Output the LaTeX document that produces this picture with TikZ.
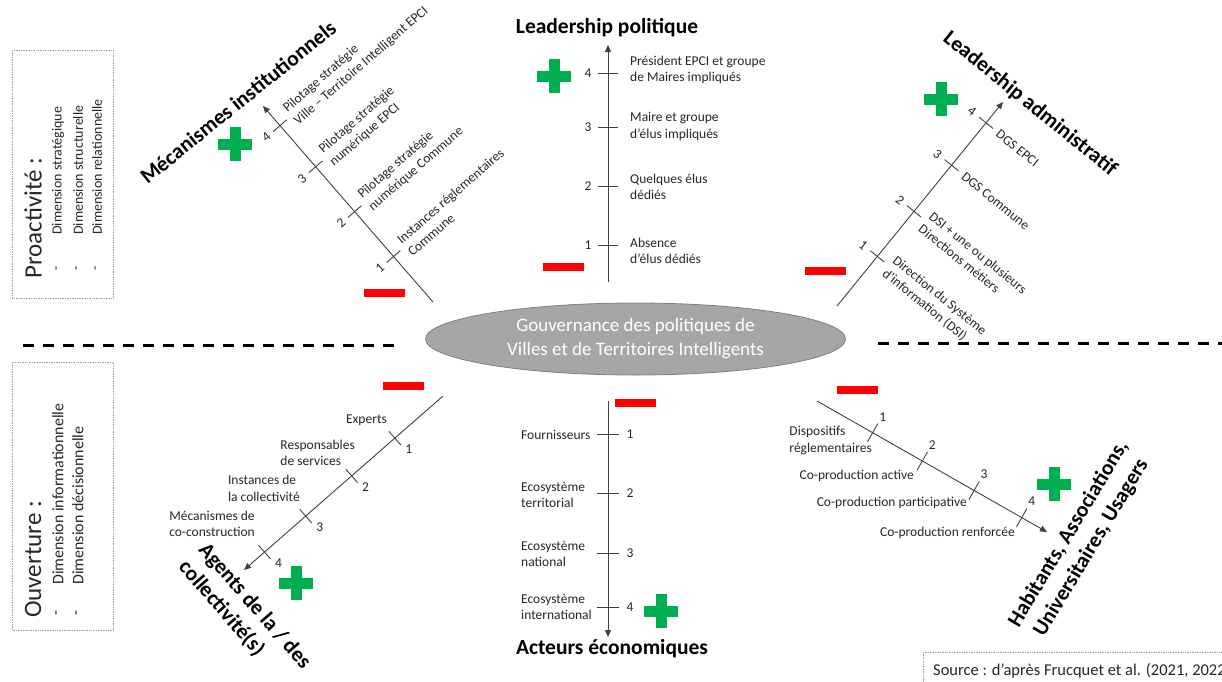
\documentclass[tikz,border=0pt]{standalone}
\usepackage{fontspec}
\setmainfont{Carlito}
\usetikzlibrary{arrows.meta,calc,shapes.geometric}
\definecolor{plusgreen}{HTML}{00B050}
\definecolor{minusred}{HTML}{FF0000}
\definecolor{axisgray}{HTML}{404040}
\definecolor{ellfill}{HTML}{A6A6A6}
\definecolor{elldraw}{HTML}{7F7F7F}
\definecolor{boxgray}{HTML}{A0A0A0}
\begin{document}
\begin{tikzpicture}[x=1pt,y=-1pt,
  lbl/.style={font=\fontsize{13.5}{16.5}\selectfont, inner sep=0pt, align=left, text=black!85},
  numlbl/.style={font=\fontsize{13.5}{16.5}\selectfont, inner sep=0pt, text=black!85},
  ttl/.style={font=\fontsize{21.5}{26.5}\selectfont\bfseries, inner sep=0pt},
  axisline/.style={draw=axisgray, line width=0.9pt, -{Triangle[length=7pt,width=6pt]}},
  tickline/.style={draw=axisgray, line width=0.9pt},
  minusbar/.style={fill=minusred, minimum width=41pt, minimum height=8pt, inner sep=0pt, draw=none},
  sepline/.style={line width=3pt, dash pattern=on 11pt off 9pt},
  dimbox/.style={draw=boxgray, densely dotted, line width=0.7pt},
  vtext/.style={rotate=90, anchor=west, inner sep=0pt, text=black!85},
  greenplus/.pic={\fill[plusgreen] (-17,-5.5) rectangle (17,5.5); \fill[plusgreen] (-5.5,-17) rectangle (5.5,17);}
]
\useasboundingbox (0,0) rectangle (1222,681);

% ---------- left boxes ----------
\draw[dimbox] (12,50) rectangle (113,298);
\node[vtext, font=\fontsize{25}{30}\selectfont] (pro) at (33,279) {Proactivité :};
\node[vtext, anchor=center, font=\fontsize{14}{17}\selectfont] (prod1) at (58,268) {-};
\node[vtext, anchor=center, font=\fontsize{14}{17}\selectfont] (prod2) at (78,268) {-};
\node[vtext, anchor=center, font=\fontsize{14}{17}\selectfont] (prod3) at (97,268) {-};
\node[vtext, font=\fontsize{14}{17}\selectfont] (pro1) at (58,235) {Dimension stratégique};
\node[vtext, font=\fontsize{14}{17}\selectfont] (pro2) at (78,235) {Dimension structurelle};
\node[vtext, font=\fontsize{14}{17}\selectfont] (pro3) at (97,235) {Dimension relationnelle};

\draw[dimbox] (12,362) rectangle (113,630);
\node[vtext, font=\fontsize{25}{30}\selectfont] (ouv) at (33,618) {Ouverture :};
\node[vtext, anchor=center, font=\fontsize{16}{19}\selectfont] (ouvd1) at (58,613) {-};
\node[vtext, anchor=center, font=\fontsize{16}{19}\selectfont] (ouvd2) at (78,613) {-};
\node[vtext, font=\fontsize{16}{19}\selectfont] (ouv1) at (58,585) {Dimension informationnelle};
\node[vtext, font=\fontsize{16}{19}\selectfont] (ouv2) at (78,585) {Dimension décisionnelle};

% ---------- separators ----------
\coordinate (sl0) at (23,345); \coordinate (sl1) at (397,345);
\coordinate (sr0) at (878,343); \coordinate (sr1) at (1222,343);
\draw[sepline] (sl0) -- (sl1);
\draw[sepline] (sr0) -- (sr1);

% ---------- core ----------
\node[ellipse, fill=ellfill, draw=elldraw, line width=0.8pt, minimum width=420pt, minimum height=72pt, inner sep=0pt, align=center, text=white, font=\fontsize{19}{24}\selectfont] (core) at (635.5,339) {Gouvernance des politiques de\\Villes et de Territoires Intelligents};

% ---------- axis 1 : Mécanismes institutionnels ----------
\coordinate (m0) at (433,302); \coordinate (m5) at (263,106);
\foreach \i/\t in {1/0.232,2/0.461,3/0.69,4/0.90}{\coordinate (m\i) at ($(m0)!\t!(m5)$);}
\draw[axisline] (m0) -- (m5);
\foreach \i in {1,2,3,4}{
  \draw[tickline] ($(m\i)!9pt!90:(m5)$) -- ($(m\i)!9pt!-90:(m5)$);
  \node[numlbl, rotate=41] (mn\i) at ($(m\i)!18pt!90:(m5)$) {\i};
}
\node[lbl, rotate=41, anchor=west] (ml1) at ($(m1)!14pt!-90:(m5)$) {Instances réglementaires\\Commune};
\node[lbl, rotate=41, anchor=west] (ml2) at ($(m2)!14pt!-90:(m5)$) {Pilotage stratégie\\numérique Commune};
\node[lbl, rotate=41, anchor=west] (ml3) at ($(m3)!14pt!-90:(m5)$) {Pilotage stratégie\\numérique EPCI};
\node[lbl, rotate=41, anchor=west] (ml4) at ($(m4)!14pt!-90:(m5)$) {Pilotage stratégie\\Ville – Territoire Intelligent EPCI};
\node[ttl, rotate=39] (t1) at (238,102) {Mécanismes institutionnels};
\pic at (235,144) {greenplus};
\node[minusbar] (n1) at (384,293) {};

% ---------- axis 2 : Leadership politique ----------
\coordinate (p0) at (608,282); \coordinate (p5) at (608,45);
\draw[axisline] (p0) -- (p5);
\foreach \i/\y in {1/245,2/186,3/127,4/73}{
  \coordinate (p\i) at (608,\y);
  \draw[tickline] ($(p\i)+(-10,0)$) -- ($(p\i)+(10,0)$);
  \node[numlbl] (pn\i) at ($(p\i)+(-20,0)$) {\i};
}
\node[lbl, anchor=west] (pl1) at (630,251) {Absence\\d’élus dédiés};
\node[lbl, anchor=west] (pl2) at (630,187) {Quelques élus\\dédiés};
\node[lbl, anchor=west] (pl3) at (630,126.5) {Maire et groupe\\d’élus impliqués};
\node[lbl, anchor=west] (pl4) at (630,70) {Président EPCI et groupe\\de Maires impliqués};
\node[ttl] (t2) at (607,28) {Leadership politique};
\pic at (554,76) {greenplus};
\node[minusbar] (n2) at (563,266.5) {};

% ---------- axis 3 : Leadership administratif ----------
\coordinate (a0) at (837,306); \coordinate (a5) at (1003,102);
\foreach \i/\t in {1/0.243,2/0.464,3/0.69,4/0.898}{\coordinate (a\i) at ($(a0)!\t!(a5)$);}
\draw[axisline] (a0) -- (a5);
\foreach \i in {1,2,3,4}{
  \draw[tickline] ($(a\i)!9pt!90:(a5)$) -- ($(a\i)!9pt!-90:(a5)$);
  \node[numlbl, rotate=-39] (an\i) at ($(a\i)!18pt!90:(a5)$) {\i};
}
\node[lbl, rotate=-39, anchor=west] (al1) at ($(a1)!15pt!-90:(a5)$) {Direction du Système\\d’information (DSI)};
\node[lbl, rotate=-39, anchor=west] (al2) at ($(a2)!15pt!-90:(a5)$) {DSI + une ou plusieurs\\Directions métiers};
\node[lbl, rotate=-39, anchor=west] (al3) at ($(a3)!15pt!-90:(a5)$) {DGS Commune};
\node[lbl, rotate=-39, anchor=west] (al4) at ($(a4)!15pt!-90:(a5)$) {DGS EPCI};
\node[ttl, rotate=-39] (t3) at (1030,104) {Leadership administratif};
\pic at (941,99) {greenplus};
\node[minusbar] (n3) at (825.5,271) {};

% ---------- axis 4 : Agents ----------
\coordinate (g0) at (443,396); \coordinate (g5) at (244,570);
\foreach \i/\t in {1/0.242,2/0.459,3/0.69,4/0.897}{\coordinate (g\i) at ($(g0)!\t!(g5)$);}
\draw[axisline] (g0) -- (g5);
\foreach \i in {1,2,3,4}{
  \draw[tickline] ($(g\i)!9pt!90:(g5)$) -- ($(g\i)!9pt!-90:(g5)$);
  \node[numlbl] (gn\i) at ($(g\i)+(14,11)$) {\i};
}
\node[lbl, anchor=east] (gl1) at (387,420) {Experts};
\node[lbl, anchor=east] (gl2) at (355,453) {Responsables\\de services};
\node[lbl, anchor=east] (gl3) at (300,488.5) {Instances de\\la collectivité};
\node[lbl, anchor=east] (gl4) at (255,524) {Mécanismes de\\co-construction};
\node[ttl, rotate=-49, align=left] (t4) at (244.5,615) {Agents de la / des\\collectivité(s)};
\pic at (296,583) {greenplus};
\node[minusbar] (n4) at (403.5,385.5) {};

% ---------- axis 5 : Acteurs économiques ----------
\coordinate (e0) at (608,401); \coordinate (e5) at (608,637);
\draw[axisline] (e0) -- (e5);
\foreach \i/\y in {1/434,2/493,3/553,4/607}{
  \coordinate (e\i) at (608,\y);
  \draw[tickline] ($(e\i)+(-11,0)$) -- ($(e\i)+(11,0)$);
  \node[numlbl] (en\i) at ($(e\i)+(22,0)$) {\i};
}
\node[lbl, anchor=west] (el1) at (521,435) {Fournisseurs};
\node[lbl, anchor=west] (el2) at (521,495) {Ecosystème\\territorial};
\node[lbl, anchor=west] (el3) at (521,554) {Ecosystème\\national};
\node[lbl, anchor=west] (el4) at (521,607) {Ecosystème\\international};
\node[ttl] (t5) at (612,649) {Acteurs économiques};
\pic at (661,611) {greenplus};
\node[minusbar] (n5) at (635,402.5) {};

% ---------- axis 6 : Habitants ----------
\coordinate (h0) at (817,401); \coordinate (h5) at (1047,532);
\foreach \i/\t in {1/0.242,2/0.458,3/0.683,4/0.89}{\coordinate (h\i) at ($(h0)!\t!(h5)$);}
\draw[axisline] (h0) -- (h5);
\foreach \i in {1,2,3,4}{
  \draw[tickline] ($(h\i)!10.5pt!90:(h5)$) -- ($(h\i)!10.5pt!-90:(h5)$);
  \node[numlbl] (hn\i) at ($(h\i)+(10,-16)$) {\i};
}
\node[lbl, anchor=east] (hl1) at (872,440.5) {Dispositifs\\réglementaires};
\node[lbl, anchor=east] (hl2) at (914,476) {Co-production active};
\node[lbl, anchor=east] (hl3) at (967,503) {Co-production participative};
\node[lbl, anchor=east] (hl4) at (1015,533) {Co-production renforcée};
\node[ttl, rotate=59, align=center] (t6) at (1080,541) {Habitants, Associations,\\Universitaires, Usagers};
\pic at (1054,484) {greenplus};
\node[minusbar] (n6) at (857.5,389.5) {};

% ---------- source ----------
\draw[dimbox] (923,652) rectangle (1240,700);
\node[anchor=west, inner sep=0pt, font=\fontsize{16.5}{20}\selectfont, text=black!85] (src) at (933,671) {Source : d’après Frucquet et al. (2021, 2022)};
\end{tikzpicture}
\end{document}
